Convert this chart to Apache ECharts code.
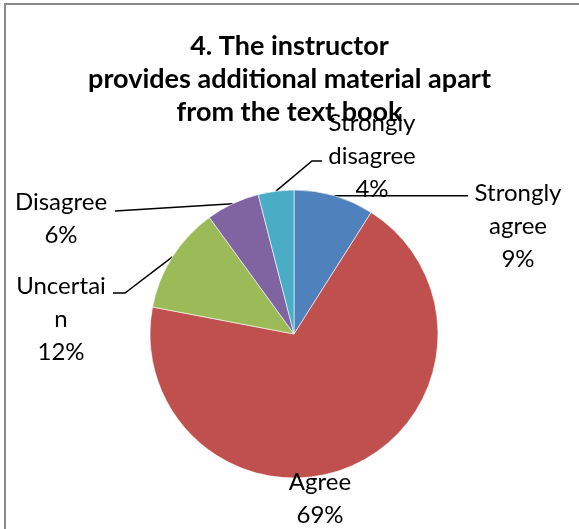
<!DOCTYPE html>
<html>
<head>
<meta charset="utf-8">
<script src="https://cdn.jsdelivr.net/npm/echarts@6/dist/echarts.min.js"></script>
<style>
html,body{margin:0;padding:0;background:#fff;}
#chart{width:579px;height:529px;}
</style>
</head>
<body>
<div id="chart"></div>
<script>
var titleText = '4. The instructor\nprovides additional material apart\nfrom the text book';
var categories = ['Strongly agree', 'Agree', 'Uncertain', 'Disagree', 'Strongly disagree'];
var values = [9, 69, 12, 6, 4];
var labelNames = ['Strongly\nagree', 'Agree', 'Uncertai\nn', 'Disagree', 'Strongly\ndisagree'];
var colors = ['#4F81BD', '#C0504D', '#9BBB59', '#8064A2', '#4BACC6'];

var FONT = 'Lato';
// label placement: center x, top y of text block; leader line end / elbow
var labelPlace = [
  {x: 518, y: 177, line: function (a) { return [a, [468, a[1]]]; }},
  {x: 320, y: 466, line: null},
  {x: 61, y: 270, line: function (a) { return [a, [125, 293], [113, 293]]; }},
  {x: 61, y: 186, line: function (a) { return [a, [115, 211]]; }},
  {x: 372, y: 107, line: function (a) { return [a, [312, 161], [322, 161]]; }}
];

var chart = echarts.init(document.getElementById('chart'), null, {renderer: 'canvas'});
var data = categories.map(function (c, i) {
  return {name: c, value: values[i], itemStyle: {color: colors[i]}};
});

chart.setOption({
  animation: false,
  backgroundColor: '#ffffff',
  graphic: [{
    type: 'rect',
    shape: {x: 5, y: 4, width: 700, height: 700},
    style: {fill: 'none', stroke: '#898989', lineWidth: 2},
    silent: true,
    z: 0
  }],
  title: {
    text: titleText,
    left: 'center',
    top: 25,
    padding: [5, 14, 5, 5],
    textStyle: {
      fontFamily: FONT,
      fontWeight: 'bold',
      fontSize: 27,
      lineHeight: 33,
      color: '#000'
    }
  },
  series: [{
    type: 'pie',
    center: [294, 334],
    radius: 144,
    startAngle: 90,
    clockwise: true,
    data: data,
    itemStyle: {borderColor: '#ffffff', borderWidth: 0.6},
    emphasis: {disabled: true},
    label: {
      show: true,
      position: 'outside',
      formatter: function (p) {
        return labelNames[p.dataIndex] + '\n' + p.value + '%';
      },
      fontFamily: FONT,
      fontSize: 24,
      lineHeight: 33,
      color: '#000',
      align: 'center'
    },
    labelLine: {
      show: true,
      length: 10,
      length2: 10,
      lineStyle: {color: '#000', width: 1.5}
    },
    labelLayout: function (params) {
      var i = params.dataIndex;
      var lp = labelPlace[i];
      var out = {
        x: lp.x,
        y: lp.y,
        align: 'center',
        verticalAlign: 'top'
      };
      if (lp.line) {
        var a = params.labelLinePoints ? params.labelLinePoints[0] : null;
        if (a) out.labelLinePoints = lp.line(a);
      } else {
        out.labelLinePoints = [[0, 0], [0, 0]];
      }
      return out;
    }
  }]
});
</script>
</body>
</html>
